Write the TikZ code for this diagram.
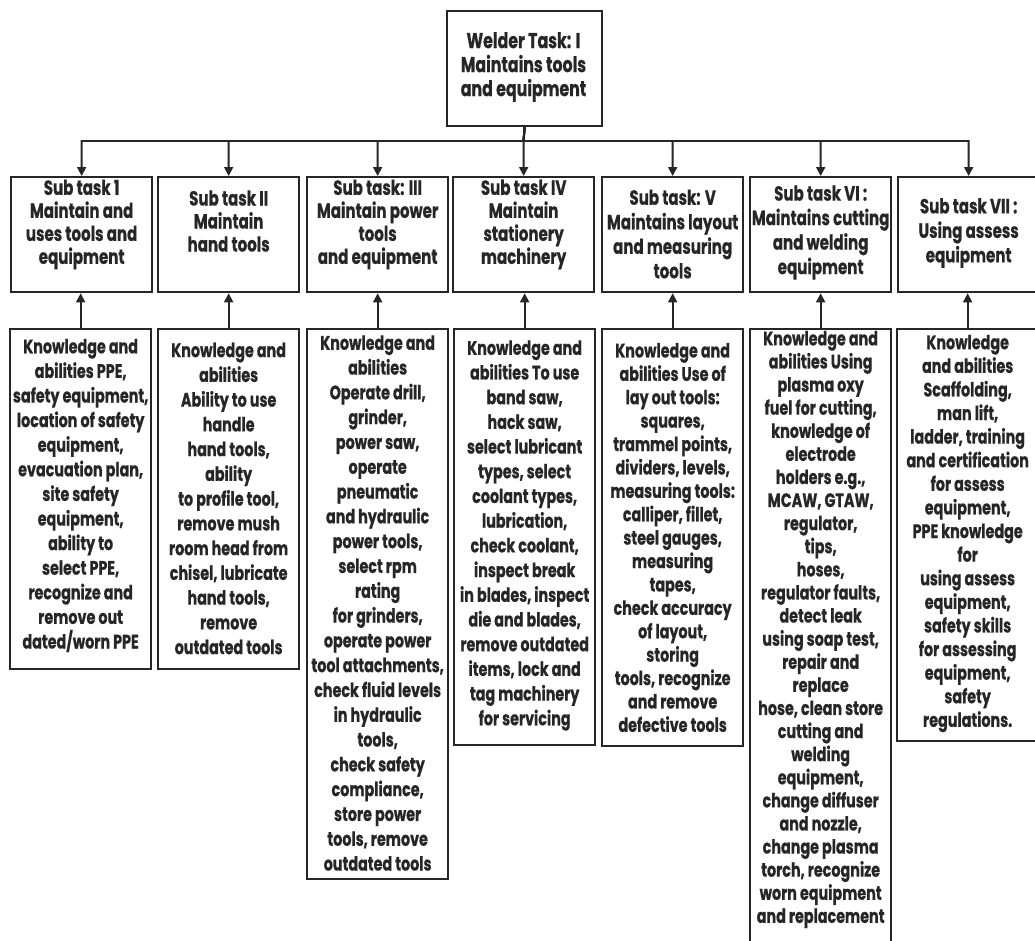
\documentclass[tikz,border=0pt]{standalone}
\usepackage{fontspec}
\setmainfont{Poppins}[FakeStretch=0.735, BoldFeatures={FakeBold=0.6}]
\usetikzlibrary{arrows.meta}
\definecolor{ink}{HTML}{262626}
\begin{document}
\begin{tikzpicture}[x=1pt,y=-1pt,
  frame/.style={draw=ink, line width=2.3pt, anchor=north west, inner sep=0pt, minimum width=141pt},
  txt/.style n args={2}{align=center, inner sep=0pt, text=ink, font=\bfseries\fontsize{#1}{#2}\selectfont},
  arr/.style={draw=ink, line width=1.9pt, -{Triangle[length=9pt,width=9pt]}}]
\useasboundingbox (0,0) rectangle (1035,940);
\clip (0,0) rectangle (1035,940);

% main task
\node[frame, minimum width=155pt, minimum height=115pt] (top) at (446,10) {};
\node[txt={21.5}{24}] (topt) at (523.5,67) {Welder Task: I\\Maintains tools\\and equipment};

% sub task frames
\foreach \i/\x in {1/10,2/157,3/306,4/452,5/601,6/749,7/897}
  \node[frame, minimum height=115pt] (s\i) at (\x,176) {};

% knowledge frames
\foreach \i/\x/\h in {1/9/340,2/157/340,3/306/550,4/453/416,5/601/417,6/749/617,7/896/412}
  \node[frame, minimum height=\h pt] (k\i) at (\x,328) {};

% sub task titles
\node[txt={20.5}{23}] (s1t) at (s1.center |- 0,224.5) {Sub task 1\\Maintain and\\uses tools and\\equipment};
\node[txt={20.5}{23}] (s2t) at (s2.center |- 0,221) {Sub task II\\Maintain\\hand tools};
\node[txt={20.5}{23}] (s3t) at (s3.center |- 0,224.5) {Sub task: III\\Maintain power\\tools\\and equipment};
\node[txt={20.5}{23}] (s4t) at (s4.center |- 0,224.5) {Sub task IV\\Maintain\\stationery\\machinery};
\node[txt={20.5}{24.5}] (s5t) at (s5.center |- 0,234) {Sub task: V\\Maintains layout\\and measuring\\tools};
\node[txt={20.5}{24.5}] (s6t) at (s6.center |- 0,232.5) {Sub task VI :\\Maintains cutting\\and welding\\equipment};
\node[txt={20.5}{24.5}] (s7t) at (s7.center |- 0,233) {Sub task VII :\\Using assess\\equipment};

% knowledge and abilities
\node[txt={19.5}{24.6}] (k1t) at (k1.center |- 0,495.5) {Knowledge and\\abilities PPE,\\safety equipment,\\location of safety\\equipment,\\evacuation plan,\\site safety\\equipment,\\ability to\\select PPE,\\recognize and\\remove out\\dated/worn PPE};
\node[txt={19.5}{24.75}] (k2t) at (k2.center |- 0,498.5) {Knowledge and\\abilities\\Ability to use\\handle\\hand tools,\\ability\\to profile tool,\\remove mush\\room head from\\chisel, lubricate\\hand tools,\\remove\\outdated tools};
\node[txt={19.5}{24.8}] (k3t) at (k3.center |- 0,603) {Knowledge and\\abilities\\Operate drill,\\grinder,\\power saw,\\operate\\pneumatic\\and hydraulic\\power tools,\\select rpm\\rating\\for grinders,\\operate power\\tool attachments,\\check fluid levels\\in hydraulic\\tools,\\check safety\\compliance,\\store power\\tools, remove\\outdated tools};
\node[txt={19.5}{24.7}] (k4t) at (k4.center |- 0,535.5) {Knowledge and\\abilities To use\\band saw,\\hack saw,\\select lubricant\\types, select\\coolant types,\\lubrication,\\check coolant,\\inspect break\\in blades, inspect\\die and blades,\\remove outdated\\items, lock and\\tag machinery\\for servicing};
\node[txt={19.5}{23.4}] (k5t) at (k5.center |- 0,537.5) {Knowledge and\\abilities Use of\\lay out tools:\\squares,\\trammel points,\\dividers, levels,\\measuring tools:\\calliper, fillet,\\steel gauges,\\measuring\\tapes,\\check accuracy\\of layout,\\storing\\tools, recognize\\and remove\\defective tools};
\node[txt={19.5}{23.1}] (k6t) at (k6.center |- 0,629.5) {Knowledge and\\abilities Using\\plasma oxy\\fuel for cutting,\\knowledge of\\electrode\\holders e.g.,\\MCAW, GTAW,\\regulator,\\tips,\\hoses,\\regulator faults,\\detect leak\\using soap test,\\repair and\\replace\\hose, clean store\\cutting and\\welding\\equipment,\\change diffuser\\and nozzle,\\change plasma\\torch, recognize\\worn equipment\\and replacement};
\node[txt={19.5}{23.6}] (k7t) at (k7.center |- 0,533.5) {Knowledge\\and abilities\\Scaffolding,\\man lift,\\ladder, training\\and certification\\for assess\\equipment,\\PPE knowledge\\for\\using assess\\equipment,\\safety skills\\for assessing\\equipment,\\safety\\regulations.};

% connectors
\coordinate (bus) at (523.5,141);
\foreach \i in {1,...,7} {
  \draw[arr] (top.south) -- (bus) -| (s\i.north);
  \draw[arr] (k\i.north) -- (k\i.north |- s\i.south);
}
\end{tikzpicture}
\end{document}
